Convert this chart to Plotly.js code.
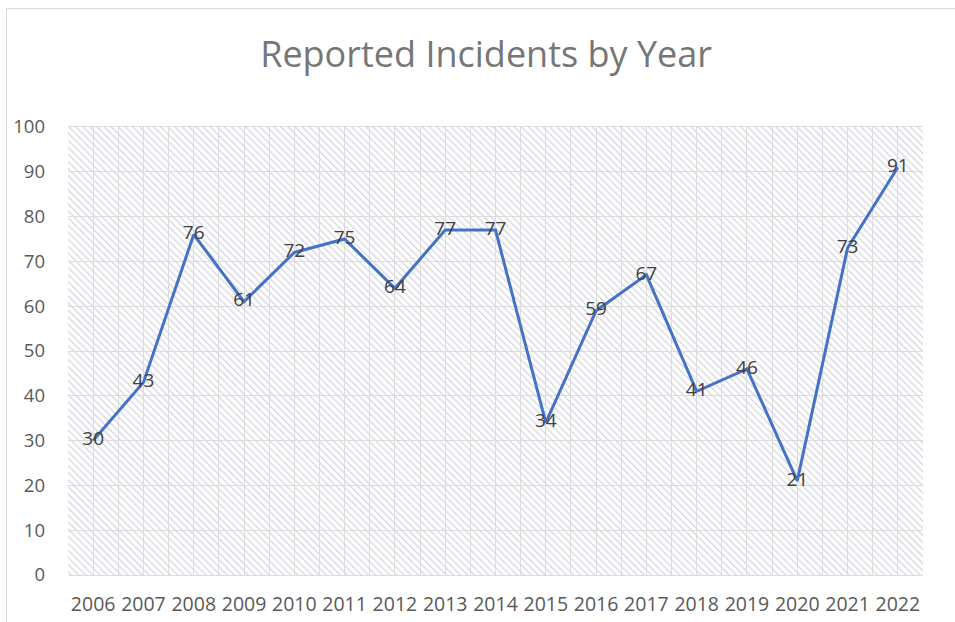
<!DOCTYPE html>
<html>
<head>
<meta charset="utf-8">
<script src="https://cdn.plot.ly/plotly-3.0.1.min.js"></script>
<style>
  html, body { margin: 0; padding: 0; background: #ffffff; }
  #frame { position: absolute; left: 6px; top: 8px; width: 949px; height: 614px;
           border-left: 1px solid #d9d9d9; border-top: 1px solid #d9d9d9; }
  #chart { position: absolute; left: 0; top: 0; width: 955px; height: 622px; }
</style>
</head>
<body>
<div id="frame"></div>
<div id="chart"></div>
<script>
const years = [2006, 2007, 2008, 2009, 2010, 2011, 2012, 2013, 2014, 2015, 2016, 2017, 2018, 2019, 2020, 2021, 2022];
const incidents = [30, 43, 76, 61, 72, 75, 64, 77, 77, 34, 59, 67, 41, 46, 21, 73, 91];
const yTicks = [0, 10, 20, 30, 40, 50, 60, 70, 80, 90, 100];

const FONT = '"Open Sans", Lato, sans-serif';

const hatchSvg =
  '<svg xmlns="http://www.w3.org/2000/svg" width="855" height="448" viewBox="0 0 855 448" preserveAspectRatio="none">' +
  '<defs><pattern id="h" patternUnits="userSpaceOnUse" width="5" height="5" patternTransform="rotate(-45)">' +
  '<rect x="0" y="0" width="5" height="5" fill="#ffffff"/>' +
  '<rect x="0" y="0" width="1.3" height="5" fill="#d6d6e0"/></pattern></defs>' +
  '<rect x="0" y="0" width="855" height="448" fill="url(#h)"/></svg>';
const hatchUri = 'data:image/svg+xml;base64,' + btoa(hatchSvg);

const trace = {
  x: years,
  y: incidents,
  type: 'scatter',
  mode: 'lines+text',
  text: incidents.map(String),
  textposition: 'middle center',
  textfont: { family: FONT, size: 19, color: '#404040' },
  line: { color: '#4472C4', width: 3 },
  hoverinfo: 'x+y',
  cliponaxis: false
};

const layout = {
  width: 955,
  height: 622,
  margin: { l: 68, r: 32, t: 127, b: 47 },
  paper_bgcolor: 'rgba(0,0,0,0)',
  plot_bgcolor: 'rgba(0,0,0,0)',
  showlegend: false,
  title: {
    text: 'Reported Incidents by Year',
    font: { family: FONT, size: 36, color: '#767676' },
    x: 0.509, xanchor: 'center',
    y: 0.912, yanchor: 'middle'
  },
  xaxis: {
    type: 'linear',
    range: [2005.5, 2022.5],
    tickvals: years,
    ticktext: years.map(String),
    showgrid: true,
    gridcolor: '#dcdcdc',
    gridwidth: 1,
    zeroline: false,
    showline: true,
    mirror: true,
    linecolor: '#dcdcdc',
    linewidth: 1,
    ticks: '',
    ticklabelstandoff: 12,
    tickfont: { family: FONT, size: 19.5, color: '#595959' },
    minor: { dtick: 1, tick0: 2005.5, showgrid: true, gridcolor: '#dcdcdc', gridwidth: 1, ticks: '' },
    fixedrange: true
  },
  yaxis: {
    range: [0, 100],
    tickvals: yTicks,
    showgrid: true,
    gridcolor: '#dcdcdc',
    gridwidth: 1,
    zeroline: false,
    showline: false,
    ticks: '',
    ticklabelstandoff: 22,
    tickfont: { family: FONT, size: 18.5, color: '#595959' },
    fixedrange: true
  },
  images: [{
    source: hatchUri,
    xref: 'paper', yref: 'paper',
    x: 0, y: 1, sizex: 1, sizey: 1,
    xanchor: 'left', yanchor: 'top',
    sizing: 'stretch',
    layer: 'below'
  }]
};

Plotly.newPlot('chart', [trace], layout, { displayModeBar: false, staticPlot: true });
</script>
</body>
</html>
